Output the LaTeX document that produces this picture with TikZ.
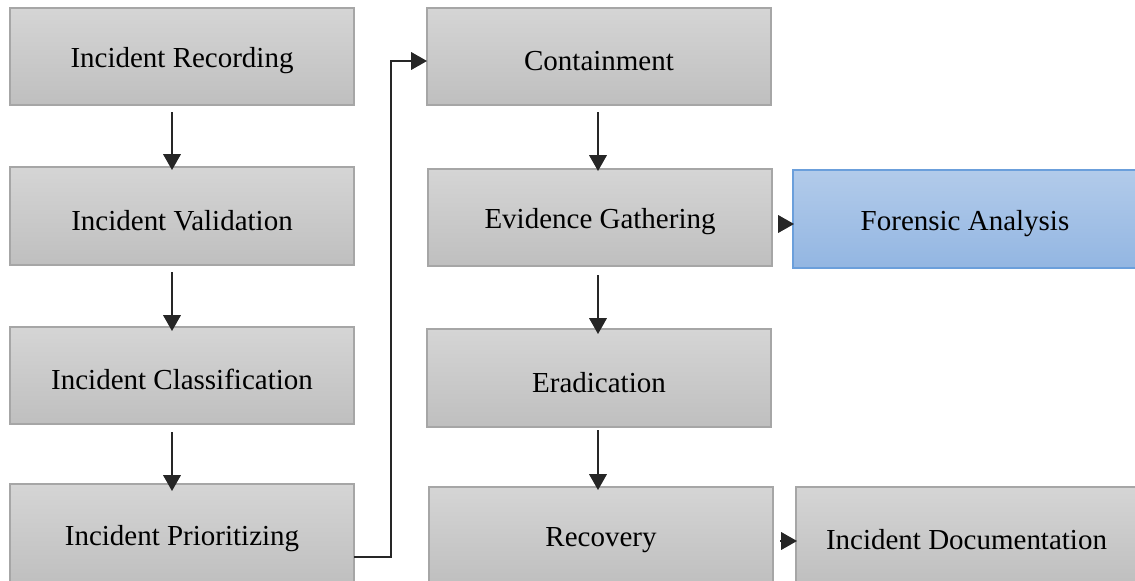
\documentclass[tikz,border=0pt]{standalone}
\usepackage{fontspec}
\setmainfont{Liberation Serif}
\usetikzlibrary{arrows.meta}
\definecolor{gtop}{HTML}{D5D5D5}
\definecolor{gbot}{HTML}{BFBFBF}
\definecolor{gedge}{HTML}{A6A6A6}
\definecolor{btop}{HTML}{B2CBEA}
\definecolor{bbot}{HTML}{93B6E2}
\definecolor{bedge}{HTML}{6B9FDB}
\begin{document}
\begin{tikzpicture}[x=0.02cm,y=-0.02cm,
  graybox/.style={draw=gedge,line width=0.8pt,top color=gtop,bottom color=gbot},
  bluebox/.style={draw=bedge,line width=0.8pt,top color=btop,bottom color=bbot},
  label/.style={font=\fontsize{16.5}{19}\selectfont,inner sep=0pt,yshift=-2.5pt},
  flow/.style={line width=0.85pt,draw=black!85,-{Triangle[width=10pt,length=9pt]}}]
\useasboundingbox (0,0) rectangle (1135,581);
\path[graybox] (10,8) rectangle node[label] (rec) {Incident Recording} (354,105);
\path[graybox] (10,167) rectangle node[label] (val) {Incident Validation} (354,265);
\path[graybox] (10,327) rectangle node[label] (cla) {Incident Classification} (354,424);
\path[graybox] (10,484) rectangle node[label] (pri) {Incident Prioritizing} (354,584);
\path[graybox] (427,8) rectangle node[label] (con) {Containment} (771,105);
\path[graybox] (428,169) rectangle node[label] (evi) {Evidence Gathering} (772,266);
\path[graybox] (427,329) rectangle node[label] (era) {Eradication} (771,427);
\path[graybox] (429,487) rectangle node[label] (rcv) {Recovery} (773,584);
\path[bluebox] (793,170) rectangle node[label] (for) {Forensic Analysis} (1137,268);
\path[graybox] (796,487) rectangle node[label] (doc) {Incident Documentation} (1137,584);
% connector anchors
\coordinate (a1s) at (172,112); \coordinate (a1e) at (172,170);
\coordinate (a2s) at (172,272); \coordinate (a2e) at (172,331);
\coordinate (a3s) at (172,432); \coordinate (a3e) at (172,491);
\coordinate (b1s) at (598,112); \coordinate (b1e) at (598,171);
\coordinate (b2s) at (598,275); \coordinate (b2e) at (598,334);
\coordinate (b3s) at (598,430); \coordinate (b3e) at (598,490);
\coordinate (ps) at (354,557); \coordinate (pe) at (427,61);
\coordinate (fs) at (778,224); \coordinate (fe) at (794,224);
\coordinate (ds) at (780,541); \coordinate (de) at (797,541);
\draw[flow] (a1s) -- (a1e);
\draw[flow] (a2s) -- (a2e);
\draw[flow] (a3s) -- (a3e);
\draw[flow] (b1s) -- (b1e);
\draw[flow] (b2s) -- (b2e);
\draw[flow] (b3s) -- (b3e);
\draw[flow] (ps) -| (391,61) -- (pe);
\draw[flow] (fs) -- (fe);
\draw[flow] (ds) -- (de);
\end{tikzpicture}
\end{document}
